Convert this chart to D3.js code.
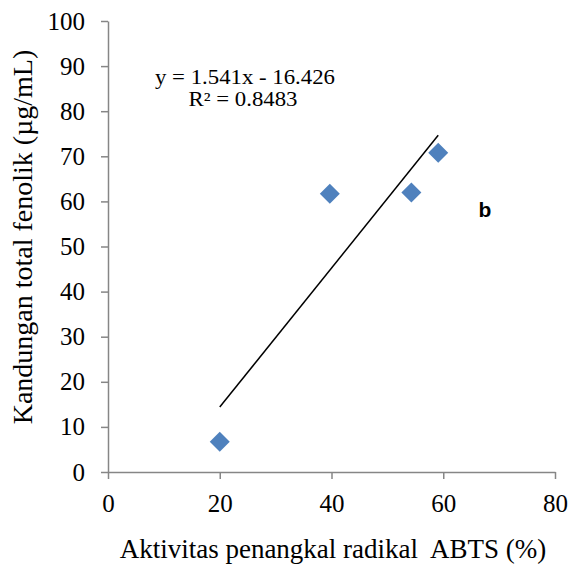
<!DOCTYPE html>
<meta charset="utf-8">
<script src="https://d3js.org/d3.v7.min.js"></script>
<style>
  body { margin: 0; background: #fff; }
  text { font-family: "Liberation Serif", "Times New Roman", serif; }
</style>
<div id="my_dataviz"></div>
<script>

// data
var abts = [20, 39.7, 54.3, 59.1];
var fenolik = [6.7, 61.7, 62.0, 70.8];
var xTicks = [0, 20, 40, 60, 80];
var yTicks = [0, 10, 20, 30, 40, 50, 60, 70, 80, 90, 100];
var slope = 1.541, intercept = -16.426;

var margin = {top: 21, right: 17, bottom: 93, left: 108},
    width = 572 - margin.left - margin.right,
    height = 565 - margin.top - margin.bottom;

var svg = d3.select("#my_dataviz")
  .append("svg")
    .attr("width", 572)
    .attr("height", 565)
  .append("g")
    .attr("transform", "translate(" + margin.left + "," + margin.top + ")");

var x = d3.scaleLinear().domain([0, 80]).range([0, width]);
var y = d3.scaleLinear().domain([0, 100]).range([height, 0]);

// axes
var xAxis = svg.append("g")
  .attr("transform", "translate(0," + height + ")")
  .call(d3.axisBottom(x).tickValues(xTicks).tickSize(7).tickSizeOuter(0).tickPadding(15));
var yAxis = svg.append("g")
  .call(d3.axisLeft(y).tickValues(yTicks).tickSize(7).tickSizeOuter(0).tickPadding(16));

[xAxis, yAxis].forEach(function(a) {
  a.attr("font-family", null);
  a.selectAll("path, line").attr("stroke", "#868686").attr("stroke-width", 1.5);
  a.selectAll("text")
    .style("font-family", "'Liberation Serif', serif")
    .style("font-size", "25px")
    .attr("fill", "#000");
});

// trend line
var xs = d3.extent(abts);
svg.append("path")
  .datum(xs)
  .attr("fill", "none")
  .attr("stroke", "#000")
  .attr("stroke-width", 1.5)
  .attr("d", d3.line()
    .x(function(d) { return x(d) })
    .y(function(d) { return y(slope * d + intercept) }));

// points (diamonds)
svg.selectAll(".pt")
  .data(abts)
  .enter()
  .append("path")
    .attr("class", "pt")
    .attr("transform", function(d, i) { return "translate(" + x(d) + "," + y(fenolik[i]) + ")" })
    .attr("d", "M0,-10L10,0L0,10L-10,0Z")
    .attr("fill", "#4F81BD");

// equation (slightly stretched, like the original)
svg.append("text")
  .attr("transform", "translate(" + (245 - margin.left) + "," + (84 - margin.top) + ") scale(1.14,1)")
  .attr("text-anchor", "middle")
  .style("font-size", "20px")
  .text("y = 1.541x - 16.426");
svg.append("text")
  .attr("transform", "translate(" + (243 - margin.left) + "," + (106 - margin.top) + ") scale(1.14,1)")
  .attr("text-anchor", "middle")
  .style("font-size", "20px")
  .text("R² = 0.8483");

// panel label
svg.append("text")
  .attr("x", 485 - margin.left)
  .attr("y", 217 - margin.top)
  .attr("text-anchor", "middle")
  .style("font-family", "'Liberation Sans', sans-serif")
  .style("font-weight", "bold")
  .style("font-size", "21px")
  .text("b");

// axis titles
svg.append("text")
  .attr("x", 333 - margin.left)
  .attr("y", 558 - margin.top)
  .attr("text-anchor", "middle")
  .attr("xml:space", "preserve")
  .style("white-space", "pre")
  .style("font-size", "27px")
  .text("Aktivitas penangkal radikal  ABTS (%)");

svg.append("text")
  .attr("transform", "translate(" + (32 - margin.left) + "," + (237 - margin.top) + ") rotate(-90)")
  .attr("text-anchor", "middle")
  .style("font-size", "28px")
  .text("Kandungan total fenolik (µg/mL)");

</script>
